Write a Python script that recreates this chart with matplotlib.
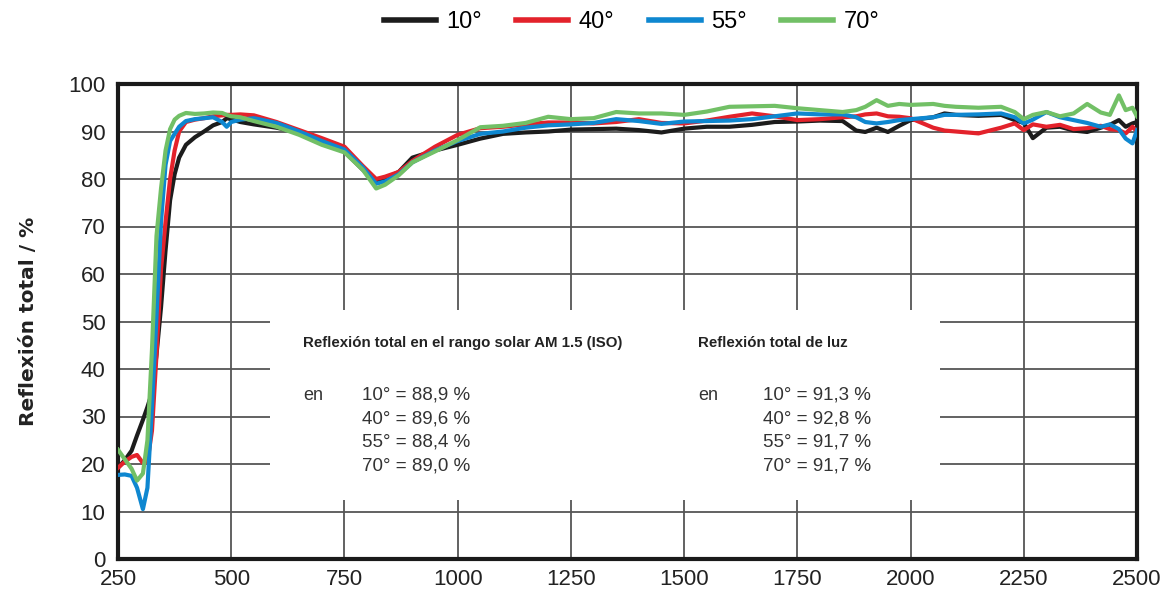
import numpy as np
import matplotlib.pyplot as plt
from matplotlib.patches import Rectangle
from matplotlib.lines import Line2D

# wavelength (nm) and total reflection (%) for each angle of incidence
wl = [250, 265, 280, 292, 305, 315, 325, 335, 345, 355, 365, 375, 385, 400, 420,
      440, 460, 480, 490, 500, 520, 550, 600, 650, 700, 750, 790, 820, 840, 870,
      900, 950, 1000, 1050, 1100, 1150, 1200, 1250, 1300, 1350, 1400, 1450, 1500,
      1550, 1600, 1650, 1700, 1750, 1800, 1850, 1880, 1900, 1925, 1950, 1975, 2000,
      2050, 2075, 2100, 2150, 2200, 2230, 2250, 2270, 2300, 2330, 2360, 2390, 2420,
      2440, 2460, 2475, 2490, 2500]

r10 = [19.2, 20.8, 22.8, 26.0, 29.3, 32.0, 35.0, 43.0, 53.0, 65.0, 75.5, 81.0, 84.5,
       87.2, 88.8, 90.0, 91.3, 92.0, 92.8, 92.6, 92.0, 91.5, 90.8, 89.8, 88.0, 85.8,
       82.0, 79.5, 80.0, 81.5, 84.5, 86.0, 87.2, 88.5, 89.5, 89.8, 90.0, 90.4, 90.5,
       90.6, 90.3, 89.8, 90.6, 91.0, 91.0, 91.4, 92.0, 92.1, 92.3, 92.2, 90.2, 89.9,
       90.8, 89.9, 91.2, 92.4, 93.0, 93.8, 93.5, 93.3, 93.5, 92.4, 91.8, 88.6, 90.8,
       91.0, 90.2, 89.9, 90.8, 91.4, 92.4, 91.0, 91.7, 92.0]

r40 = [19.2, 20.5, 21.5, 21.9, 20.2, 20.5, 27.0, 43.0, 61.0, 71.0, 80.0, 86.0, 90.0,
       92.0, 92.5, 92.8, 93.2, 93.4, 93.5, 93.5, 93.6, 93.4, 92.0, 90.3, 88.6, 86.8,
       82.8, 80.0, 80.5, 81.5, 83.8, 86.8, 89.3, 90.7, 91.0, 91.5, 91.9, 91.9, 91.7,
       92.0, 92.6, 91.8, 91.7, 92.3, 93.1, 93.8, 93.2, 92.4, 92.6, 93.0, 93.2, 93.6,
       93.8, 93.2, 93.1, 92.8, 90.8, 90.2, 90.0, 89.6, 90.8, 91.7, 90.3, 91.5, 91.0,
       91.4, 90.5, 90.7, 91.2, 90.5, 90.3, 89.6, 91.0, 90.0]

r55 = [17.7, 17.8, 17.5, 15.0, 10.5, 15.0, 32.0, 51.0, 71.0, 83.0, 88.0, 89.5, 91.0,
       92.2, 92.6, 92.8, 93.0, 92.0, 91.0, 92.0, 92.5, 92.8, 91.8, 90.0, 88.0, 86.2,
       82.5, 79.0, 79.5, 81.0, 83.5, 86.0, 88.0, 89.5, 90.0, 90.8, 91.3, 91.5, 91.8,
       92.6, 92.2, 91.6, 92.1, 92.2, 92.3, 92.6, 93.2, 93.8, 93.6, 93.6, 93.0, 92.0,
       91.7, 92.0, 92.4, 92.6, 93.0, 93.5, 93.5, 93.6, 93.8, 93.0, 91.7, 92.5, 94.1,
       93.0, 92.4, 91.8, 91.0, 91.5, 90.5, 88.5, 87.5, 90.3]

r70 = [23.0, 21.0, 19.0, 16.5, 18.0, 25.0, 44.0, 68.0, 78.0, 86.0, 90.5, 92.5, 93.3,
       93.9, 93.7, 93.8, 94.0, 93.9, 93.5, 93.2, 93.0, 92.2, 91.0, 89.3, 87.2, 85.6,
       82.0, 78.0, 78.8, 80.8, 83.5, 85.8, 88.2, 90.9, 91.2, 91.8, 93.1, 92.6, 92.8,
       94.1, 93.8, 93.8, 93.5, 94.2, 95.2, 95.3, 95.4, 94.9, 94.5, 94.1, 94.5, 95.2,
       96.6, 95.4, 95.8, 95.6, 95.8, 95.4, 95.2, 95.0, 95.2, 94.1, 92.6, 93.5, 94.1,
       93.2, 93.8, 95.8, 94.0, 93.5, 97.6, 94.5, 95.0, 93.2]

labels = ['10°', '40°', '55°', '70°']
colores = ['#1c1c1c', '#e3222b', '#0e87d0', '#72c066']

tituloIzq = 'Reflexión total en el rango solar AM 1.5 (ISO)'
tituloDer = 'Reflexión total de luz'
valoresIzq = ['10° = 88,9 %', '40° = 89,6 %', '55° = 88,4 %', '70° = 89,0 %']
valoresDer = ['10° = 91,3 %', '40° = 92,8 %', '55° = 91,7 %', '70° = 91,7 %']

fuente = ['Liberation Sans', 'DejaVu Sans']

fig = plt.figure(figsize=(11.63, 5.92), dpi=100)
ax = fig.add_axes([118/1163, 1 - 559/592, (1137-118)/1163, (559-84)/592])

for serie, c in zip([r10, r40, r55, r70], colores):
    ax.plot(wl, serie, color=c, lw=3.0, zorder=3, solid_joinstyle='round')

ax.set_xlim(250, 2500)
ax.set_ylim(0, 100)
ax.set_xticks([250, 500, 750, 1000, 1250, 1500, 1750, 2000, 2250, 2500])
ax.set_yticks(np.arange(0, 101, 10))
ax.grid(True, color='#555555', lw=1.3)
ax.set_axisbelow(True)
ax.tick_params(length=0, labelsize=16, colors='#222222')
ax.tick_params(axis='y', pad=9)
ax.tick_params(axis='x', pad=7)
for lab in ax.get_xticklabels() + ax.get_yticklabels():
    lab.set_family(fuente)
for s in ax.spines.values():
    s.set_linewidth(3)
    s.set_color('#1a1a1a')

# white box with the summary values (hides the grid behind it)
ax.add_patch(Rectangle((586, 12.4), 2065 - 586, 40, facecolor='white',
                       edgecolor='none', zorder=1))
ax.text(658, 45.5, tituloIzq, fontsize=10.8, fontweight='bold', family=fuente,
        color='#222222', va='center', zorder=2)
ax.text(1531, 45.5, tituloDer, fontsize=10.8, fontweight='bold', family=fuente,
        color='#222222', va='center', zorder=2)
ax.text(658, 34.5, 'en', fontsize=13, family=fuente, color='#333333', va='center', zorder=2)
ax.text(1531, 34.5, 'en', fontsize=13, family=fuente, color='#333333', va='center', zorder=2)
for i, (a, b) in enumerate(zip(valoresIzq, valoresDer)):
    yy = 34.5 - i * 4.95
    ax.text(789, yy, a, fontsize=13.5, family=fuente, color='#333333', va='center', zorder=2)
    ax.text(1674, yy, b, fontsize=13.5, family=fuente, color='#333333', va='center', zorder=2)

ax.set_ylabel('Reflexión total / %', fontsize=14.5, fontweight='bold', color='#222222',
              labelpad=22)

handles = [Line2D([], [], color=c, lw=4) for c in colores]
fig.legend(handles, labels, loc='center', bbox_to_anchor=(0.543, 0.963), ncol=4,
           frameon=False, handlelength=2.2, handletextpad=0.45, columnspacing=1.45,
           prop={'family': fuente, 'size': 17})

plt.savefig('out.png', dpi=100)
plt.close(fig)
